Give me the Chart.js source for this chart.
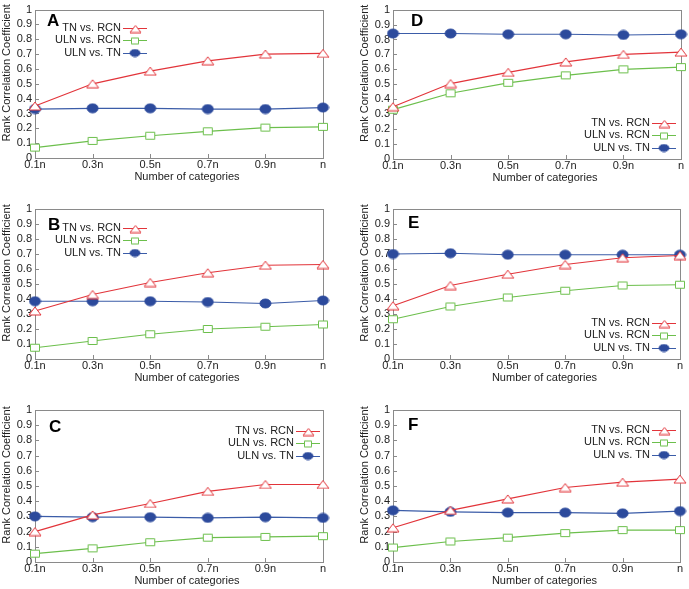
<!DOCTYPE html>
<html><head><meta charset="utf-8">
<script src="https://cdn.jsdelivr.net/npm/chart.js@4/dist/chart.umd.min.js"></script>
<style>
html,body{margin:0;padding:0;background:#fff;}
#wrap{position:relative;width:689px;height:589px;overflow:hidden;background:#fff;}
#wrap canvas{position:absolute;}
</style></head><body><div id="wrap"></div>
<script>
// ---------- data ----------
const categories = ['0.1n', '0.3n', '0.5n', '0.7n', '0.9n', 'n'];
const yTickValues = [0, 0.1, 0.2, 0.3, 0.4, 0.5, 0.6, 0.7, 0.8, 0.9, 1];
const seriesNames = ['TN vs. RCN', 'ULN vs. RCN', 'ULN vs. TN'];
const panelLabels = ['A', 'B', 'C', 'D', 'E', 'F'];
const xTitle = 'Number of categories';
const yTitle = 'Rank Correlation Coefficient';

const tnRcnA  = [0.35, 0.50, 0.585, 0.655, 0.70, 0.705];
const ulnRcnA = [0.07, 0.115, 0.15, 0.18, 0.205, 0.21];
const ulnTnA  = [0.33, 0.335, 0.335, 0.33, 0.33, 0.34];

const tnRcnB  = [0.32, 0.43, 0.51, 0.575, 0.625, 0.63];
const ulnRcnB = [0.075, 0.12, 0.165, 0.20, 0.215, 0.23];
const ulnTnB  = [0.385, 0.385, 0.385, 0.38, 0.37, 0.39];

const tnRcnC  = [0.20, 0.31, 0.385, 0.465, 0.51, 0.51];
const ulnRcnC = [0.055, 0.09, 0.13, 0.16, 0.165, 0.17];
const ulnTnC  = [0.30, 0.295, 0.295, 0.29, 0.295, 0.29];

const tnRcnD  = [0.35, 0.505, 0.58, 0.65, 0.70, 0.715];
const ulnRcnD = [0.33, 0.44, 0.51, 0.56, 0.60, 0.615];
const ulnTnD  = [0.84, 0.84, 0.835, 0.835, 0.83, 0.835];

const tnRcnE  = [0.355, 0.49, 0.565, 0.63, 0.675, 0.69];
const ulnRcnE = [0.265, 0.35, 0.41, 0.455, 0.49, 0.495];
const ulnTnE  = [0.70, 0.705, 0.695, 0.695, 0.695, 0.695];

const tnRcnF  = [0.225, 0.34, 0.415, 0.49, 0.525, 0.545];
const ulnRcnF = [0.095, 0.135, 0.16, 0.19, 0.21, 0.21];
const ulnTnF  = [0.34, 0.33, 0.325, 0.325, 0.32, 0.335];

const panelSeries = {
  A: [tnRcnA, ulnRcnA, ulnTnA],
  B: [tnRcnB, ulnRcnB, ulnTnB],
  C: [tnRcnC, ulnRcnC, ulnTnC],
  D: [tnRcnD, ulnRcnD, ulnTnD],
  E: [tnRcnE, ulnRcnE, ulnTnE],
  F: [tnRcnF, ulnRcnF, ulnTnF]
};

// ---------- layout / style ----------
const FONT = '"Liberation Sans", Arial, Helvetica, sans-serif';
const TEXT = '#222';
const RED = '#e2343a', GREEN = '#6cbf4c', BLUE_LINE = '#3b5ca8', BLUE_FILL = '#2c4a9c';

const layouts = {
  A: {c:[0,0,344,195],   a:[35,7,323,158],   leg:{x:121,y:28},  lab:{x:47,y:21}, yt:7},
  B: {c:[0,195,344,195], a:[35,209,323,359], leg:{x:121,y:33},  lab:{x:48,y:30}, yt:7},
  C: {c:[0,390,344,199], a:[35,410,323,562], leg:{x:294,y:41},  lab:{x:49,y:37}, yt:7},
  D: {c:[344,0,345,195], a:[393,7,681,159],  leg:{x:306,y:123}, lab:{x:67,y:21}, yt:21},
  E: {c:[344,195,345,195], a:[393,209,680,359], leg:{x:306,y:128}, lab:{x:64,y:28}, yt:21},
  F: {c:[344,390,345,199], a:[393,410,680,562], leg:{x:306,y:40},  lab:{x:64,y:35}, yt:21}
};

function makeMarker(kind, w, h, stroke, fill) {
  const c = document.createElement('canvas');
  c.width = w + 2; c.height = h + 2;
  const g = c.getContext('2d');
  g.lineWidth = 1; g.strokeStyle = stroke; g.fillStyle = fill;
  g.beginPath();
  if (kind === 'tri') { g.moveTo(c.width / 2, 1); g.lineTo(w + 1, h + 1); g.lineTo(1, h + 1); g.closePath(); }
  else if (kind === 'sq') { g.rect(1.5, 1.5, w - 1, h - 1); }
  else { g.ellipse(c.width / 2, c.height / 2, w / 2, h / 2, 0, 0, Math.PI * 2); }
  g.fill(); g.stroke();
  return c;
}
const markers = [
  makeMarker('tri', 12, 8, RED, '#fff'),
  makeMarker('sq', 10, 8, GREEN, '#fff'),
  makeMarker('circ', 11, 9, BLUE_FILL, BLUE_FILL)
];
const legendMarkers = [
  makeMarker('tri', 11, 7, RED, '#fff'),
  makeMarker('sq', 8, 7, GREEN, '#fff'),
  makeMarker('circ', 10, 7, BLUE_FILL, BLUE_FILL)
];
const lineColors = [RED, GREEN, BLUE_LINE];

const framePlugin = {
  id: 'frame',
  beforeDatasetsDraw(chart) {
    const {ctx, chartArea: ca, scales} = chart;
    ctx.save();
    ctx.strokeStyle = '#8a8a8a';
    ctx.lineWidth = 1;
    ctx.strokeRect(Math.round(ca.left) + 0.5, Math.round(ca.top) + 0.5,
      Math.round(ca.right - ca.left), Math.round(ca.bottom - ca.top));
    ctx.beginPath();
    const ys = scales.y;
    ys.ticks.forEach((t, i) => {
      const py = Math.round(ys.getPixelForTick(i)) + 0.5;
      ctx.moveTo(ca.left, py); ctx.lineTo(ca.left + 4, py);
    });
    const xs = scales.x;
    xs.ticks.forEach((t, i) => {
      const px = Math.round(xs.getPixelForTick(i)) + 0.5;
      ctx.moveTo(px, ca.bottom); ctx.lineTo(px, ca.bottom - 4);
    });
    ctx.stroke();
    ctx.restore();
  },
  afterDraw(chart) {
    const o = chart.options.plugins.frame;
    const {ctx, chartArea: ca} = chart;
    ctx.save();
    // axis titles
    ctx.fillStyle = TEXT;
    ctx.font = '11px ' + FONT;
    ctx.textAlign = 'center';
    ctx.textBaseline = 'middle';
    ctx.fillText(xTitle, (ca.left + ca.right) / 2 + 8, ca.bottom + 19);
    ctx.save();
    ctx.translate(o.yt, (ca.top + ca.bottom) / 2 - 11);
    ctx.rotate(-Math.PI / 2);
    ctx.fillText(yTitle, 0, 0);
    ctx.restore();
    // legend
    ctx.textAlign = 'right';
    chart.data.datasets.forEach((ds, i) => {
      const y = o.leg.y + i * 12.3;
      ctx.fillStyle = TEXT;
      ctx.fillText(ds.label, o.leg.x, y);
      ctx.strokeStyle = ds.borderColor;
      ctx.lineWidth = 1;
      ctx.beginPath();
      ctx.moveTo(o.leg.x + 2, Math.round(y) + 0.5);
      ctx.lineTo(o.leg.x + 26, Math.round(y) + 0.5);
      ctx.stroke();
      const m = legendMarkers[i];
      ctx.drawImage(m, Math.round(o.leg.x + 14 - m.width / 2), Math.round(y - m.height / 2) + 0.5);
    });
    // panel letter
    ctx.font = 'bold 17px ' + FONT;
    ctx.textAlign = 'left';
    ctx.fillStyle = '#000';
    ctx.fillText(o.label, o.lab.x, o.lab.y);
    ctx.restore();
  }
};

const wrap = document.getElementById('wrap');
panelLabels.forEach(p => {
  const L = layouts[p];
  const [cx, cy, cw, ch] = L.c;
  const [al, at, ar, ab] = L.a;
  const cv = document.createElement('canvas');
  cv.width = cw; cv.height = ch;
  cv.style.left = cx + 'px'; cv.style.top = cy + 'px';
  cv.style.width = cw + 'px'; cv.style.height = ch + 'px';
  wrap.appendChild(cv);
  const yW = al - cx;
  const xH = cy + ch - ab;
  const padTop = at - cy;
  const padRight = cx + cw - ar;

  const datasets = panelSeries[p].map((vals, i) => ({
    label: seriesNames[i],
    data: vals,
    borderColor: lineColors[i],
    backgroundColor: lineColors[i],
    borderWidth: 1.2,
    pointStyle: markers[i],
    pointRadius: 5,
    tension: 0,
    clip: false
  }));

  new Chart(cv, {
    type: 'line',
    data: {labels: categories, datasets},
    plugins: [framePlugin],
    options: {
      responsive: false,
      animation: false,
      devicePixelRatio: 1,
      layout: {padding: {top: padTop, right: padRight, left: 0, bottom: 0}},
      plugins: {
        legend: {display: false},
        tooltip: {enabled: false},
        frame: {leg: L.leg, lab: L.lab, label: p, yt: L.yt}
      },
      scales: {
        x: {
          type: 'category',
          offset: false,
          grid: {display: false, drawTicks: false},
          border: {display: false},
          ticks: {color: TEXT, font: {family: FONT, size: 11}, padding: 0, maxRotation: 0, autoSkip: false},
          title: {display: false},
          afterFit(s) { s.height = xH; }
        },
        y: {
          min: 0, max: 1,
          grid: {display: false, drawTicks: false},
          border: {display: false},
          afterBuildTicks(s) { s.ticks = yTickValues.map(v => ({value: v})); },
          ticks: {color: TEXT, font: {family: FONT, size: 11}, padding: 3, autoSkip: false,
                  callback: v => String(Math.round(v * 10) / 10)},
          title: {display: false},
          afterFit(s) { s.width = yW; }
        }
      }
    }
  });
});
</script>
</body></html>
